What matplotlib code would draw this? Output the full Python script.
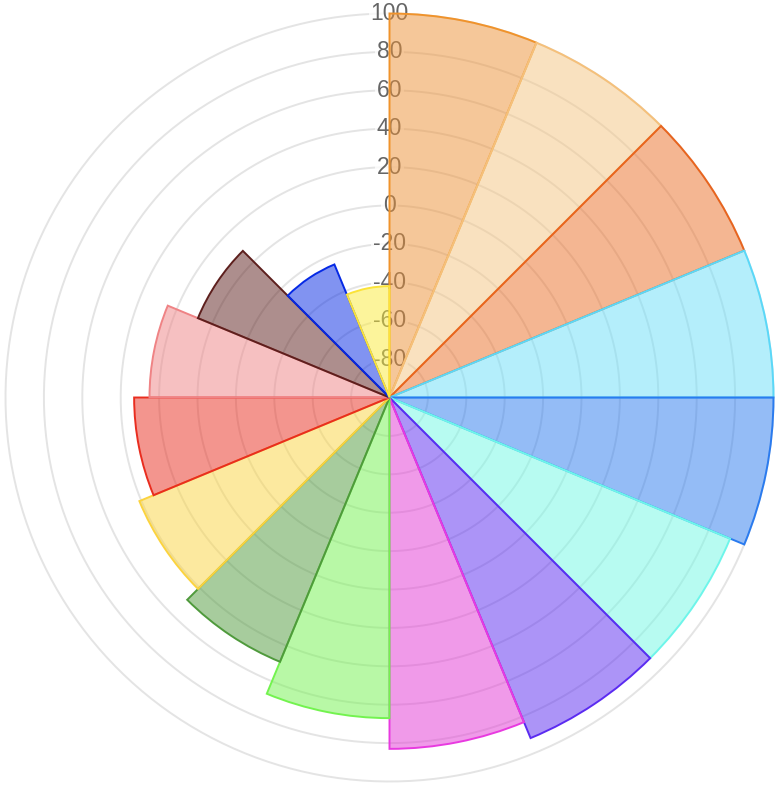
import numpy as np
import matplotlib
matplotlib.use("Agg")
import matplotlib.pyplot as plt

values = [100, 100, 100, 100, 100, 92, 92, 83, 67, 49, 41, 33, 25, 8, -25, -42]
border_colors = ["#f0932b", "#f5c07a", "#e8641e", "#5ad8f8", "#2a7bef", "#6ef5ea",
                 "#5b2bf1", "#e83ae0", "#73f34f", "#4f9a3c", "#fbd33f", "#e92d1f",
                 "#ef8385", "#5d1f1d", "#0529e5", "#fbe339"]
fill_colors = ["#ed9135", "#f5c581", "#eb6f27", "#6bdff9", "#2b7bef", "#71f9e5",
               "#5b2bf1", "#e337d5", "#73f34f", "#519b3d", "#fbd541", "#e92d1f",
               "#ef8385", "#5d1f1d", "#0529e5", "#fbeb39"]
tick_values = [-80, -60, -40, -20, 0, 20, 40, 60, 80, 100]
tick_labels = [str(t) for t in tick_values]
r_min, r_max = -100, 100

W, H = 781, 788
fig = plt.figure(figsize=(W / 100, H / 100), dpi=100)
cx, cy, R = 389.5, 397.5, 384
ax = fig.add_axes([(cx - R) / W, (H - cy - R) / H, 2 * R / W, 2 * R / H], projection="polar")
ax.set_theta_zero_location("N")
ax.set_theta_direction(-1)
ax.set_ylim(r_min, r_max)

n = len(values)
width = 2 * np.pi / n
theta = np.arange(n) * width
for t, v, fc, ec in zip(theta, values, fill_colors, border_colors):
    ax.bar(t, v - r_min, width=width, bottom=r_min, align="edge",
           color=fc, alpha=0.5, edgecolor="none", zorder=5, clip_on=False)
    ax.bar(t, v - r_min, width=width, bottom=r_min, align="edge",
           facecolor="none", edgecolor=ec, linewidth=1.4, zorder=5, clip_on=False)

# grid circles
tt = np.linspace(0, 2 * np.pi, 400)
for tv in tick_values:
    ax.plot(tt, np.full_like(tt, tv), color="#e4e4e4", linewidth=1.4, zorder=1, clip_on=False)

ax.set_xticks([])
ax.set_yticks([])
ax.grid(False)
ax.spines["polar"].set_visible(False)

for tv, lab in zip(tick_values, tick_labels):
    ax.text(0, tv, lab, ha="center", va="center", fontsize=16.5, color="#666666",
            family=["Liberation Sans", "DejaVu Sans"], zorder=2,
            bbox=dict(boxstyle="square,pad=0.08", facecolor="white", alpha=0.75, edgecolor="none"))

fig.savefig("out.png", dpi=100)
